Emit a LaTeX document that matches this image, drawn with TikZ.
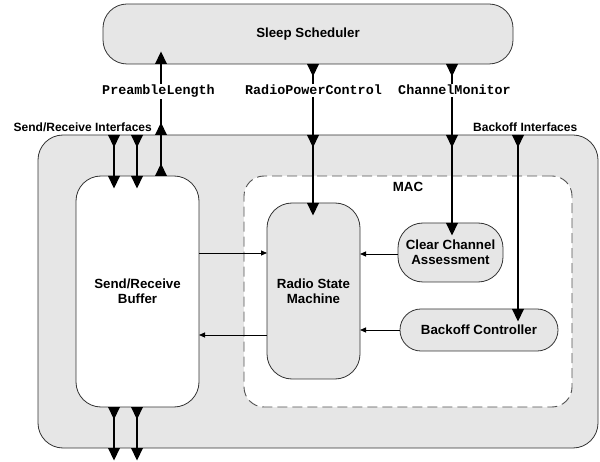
\documentclass[tikz,border=0pt]{standalone}
\usepackage{fontspec}
\setmainfont{Liberation Sans}
\setmonofont{Liberation Mono}
\usetikzlibrary{arrows.meta}
\definecolor{boxgray}{HTML}{E6E6E6}
\definecolor{linegray}{HTML}{333333}
\begin{document}
\begin{tikzpicture}[x=1pt,y=-1pt,
  box/.style={draw=linegray, line width=0.8pt, fill=boxgray, rectangle,
    inner sep=0pt, outer sep=0pt, align=center,
    font=\fontsize{13.3}{15}\selectfont\bfseries},
  port/.style={line width=1.8pt, black},
  sig/.style={line width=0.8pt, black, -{Triangle[length=6pt,width=5pt]}},
  mono/.style={anchor=base, fill=white, inner sep=1.5pt,
    font=\fontsize{13.4}{15}\selectfont\ttfamily\bfseries},
  iflabel/.style={inner sep=0pt, font=\fontsize{12}{14}\selectfont\bfseries},
  headdn/.pic={\fill[black] (-6,0) -- (6,0) -- (0,12.5) -- cycle;},
  headup/.pic={\fill[black] (-6,0) -- (6,0) -- (0,-12.5) -- cycle;},
]
\useasboundingbox (0,0) rectangle (600,462);

% component boxes
\node[box, minimum width=560pt, minimum height=313pt, rounded corners=25pt] (comp) at (318,291.5) {};
\node[box, minimum width=410pt, minimum height=60pt, rounded corners=24pt] (sleep) at (308,34) {Sleep Scheduler};
\node[box, fill=white, minimum width=123pt, minimum height=231pt, rounded corners=25pt] (buf) at (137.5,291.5) {Send/Receive\\Buffer};
\node[draw=linegray!85, line width=0.9pt, dash pattern=on 10pt off 5pt, fill=white, rectangle,
  inner sep=0pt, outer sep=0pt, rounded corners=20pt, minimum width=328pt, minimum height=231pt] (mac) at (408,291.5) {};
\node[inner sep=0pt, font=\fontsize{13.3}{15}\selectfont\bfseries] (maclabel) at (408,187) {MAC};
\node[box, minimum width=93pt, minimum height=176pt, rounded corners=25pt] (rsm) at (313.5,291) {Radio State\\Machine};
\node[box, minimum width=105pt, minimum height=59pt, rounded corners=25pt] (cca) at (450.5,252.5) {Clear Channel\\Assessment};
\node[box, minimum width=158pt, minimum height=42pt, rounded corners=20.9pt] (bo) at (479,330) {Backoff Controller};

% interface labels
\node[iflabel, anchor=base east] (lsr) at (152,131.5) {Send/Receive Interfaces};
\node[iflabel, anchor=base west] (lbo) at (473,131.5) {Backoff Interfaces};

% x positions of the interface wires
\coordinate (xa) at (114,0);
\coordinate (xb) at (137,0);
\coordinate (xp) at (161,0);
\coordinate (xr) at (313,0);
\coordinate (xc) at (452,0);
\coordinate (xk) at (518,0);
% y positions of the internal signals
\coordinate (ya) at (0,253);
\coordinate (yb) at (0,335);
\coordinate (yc) at (0,254);
\coordinate (yd) at (0,330);

% send/receive wires
\foreach \c in {xa,xb}{
  \draw[port] (comp.north -| \c) -- (buf.north -| \c);
  \pic at (comp.north -| \c) {headdn};
  \pic at (buf.north -| \c) {headdn};
  \draw[port] (buf.south -| \c) -- (comp.south -| \c);
  \pic at (buf.south -| \c) {headdn};
  \pic at (comp.south -| \c) {headdn};
}

% PreambleLength
\draw[port] (buf.north -| xp) -- (sleep.south -| xp);
\pic at (buf.north -| xp) {headup};
\pic at (comp.north -| xp) {headup};
\pic at (sleep.south -| xp) {headup};

% RadioPowerControl
\draw[port] (sleep.south -| xr) -- (rsm.north -| xr);
\pic at (sleep.south -| xr) {headdn};
\pic at (comp.north -| xr) {headdn};
\pic at (rsm.north -| xr) {headdn};

% ChannelMonitor
\draw[port] (sleep.south -| xc) -- (cca.north -| xc);
\pic at (sleep.south -| xc) {headdn};
\pic at (comp.north -| xc) {headdn};
\pic at (cca.north -| xc) {headdn};

% Backoff interface
\draw[port] (comp.north -| xk) -- (bo.north -| xk);
\pic at (comp.north -| xk) {headdn};
\pic at (bo.north -| xk) {headdn};

% wire labels
\node[mono] (lpre) at (158.5,95) {PreambleLength};
\node[mono] (lrpc) at (313.5,95) {RadioPowerControl};
\node[mono] (lcm) at (454.5,95) {ChannelMonitor};

% internal signals
\draw[sig] (buf.east |- ya) -- (rsm.west |- ya);
\draw[sig] (rsm.west |- yb) -- (buf.east |- yb);
\draw[sig] (cca.west |- yc) -- (rsm.east |- yc);
\draw[sig] (bo.west |- yd) -- (rsm.east |- yd);
\end{tikzpicture}
\end{document}
